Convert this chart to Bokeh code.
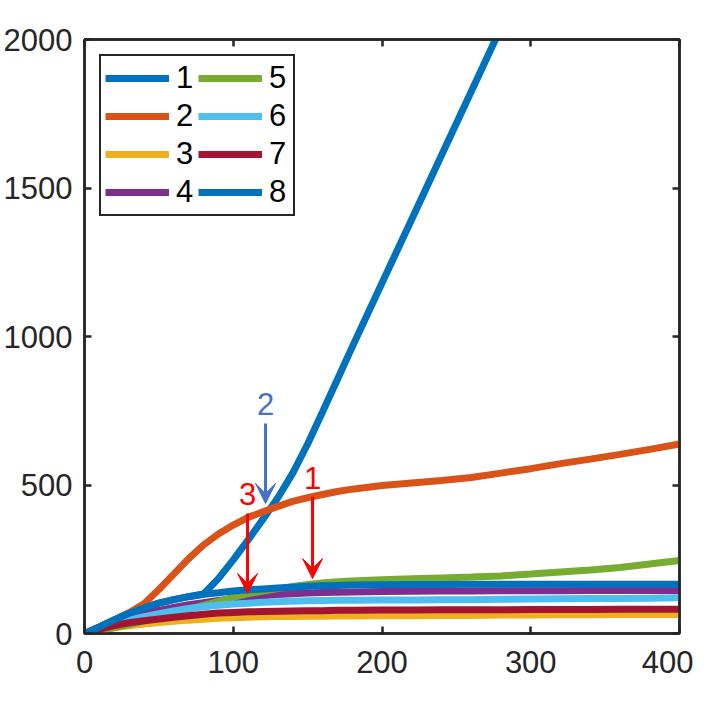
from bokeh.plotting import figure
from bokeh.models import (Range1d, LinearAxis, Arrow, VeeHead, FixedTicker, Legend, LegendItem,
                          ColumnDataSource, CustomLabelingPolicy)
from bokeh.embed import file_html
from bokeh.resources import INLINE
from bokeh.core.properties import value

# ---- data ----
x = [0, 10, 20, 30, 40, 50, 60, 70, 80, 90, 100, 110, 120, 130, 140, 150, 160, 170, 180,
     200, 220, 240, 260, 280, 300, 320, 340, 360, 380, 400]
s1 = [0, 22, 46, 68, 86, 102, 114, 124, 133, 185, 248, 315, 385, 457, 540, 638, 746, 855, 965,
      1180, 1395, 1610, 1825, 2040, 2255, 2470, 2685, 2900, 3115, 3330]
s2 = [0, 22, 46, 70, 100, 148, 200, 252, 298, 335, 365, 391, 410, 428, 445, 457, 468, 478, 486,
      498, 507, 515, 525, 540, 555, 572, 587, 603, 620, 638]
s3 = [0, 10, 19, 26, 32, 37, 41, 45, 48, 51, 53, 55, 56, 57, 57, 58, 58, 59, 59,
      60, 60, 61, 61, 62, 62, 63, 63, 64, 64, 64]
s4 = [0, 18, 36, 52, 66, 78, 88, 97, 104, 111, 117, 122, 127, 131, 134, 136, 138, 139, 140,
      141, 142, 143, 143, 144, 144, 144, 145, 145, 145, 145]
s5 = [0, 10, 20, 30, 42, 55, 68, 82, 95, 108, 122, 134, 143, 151, 158, 165, 170, 174, 177,
      181, 184, 187, 190, 194, 200, 207, 214, 222, 234, 246]
s6 = [0, 16, 32, 45, 57, 67, 76, 84, 90, 95, 99, 102, 105, 107, 109, 110, 111, 112, 112,
      113, 113, 114, 114, 115, 116, 117, 118, 118, 119, 120]
s7 = [0, 14, 27, 36, 43, 49, 55, 60, 65, 69, 71, 73, 74, 75, 76, 77, 77, 78, 78,
      79, 79, 80, 80, 80, 81, 81, 81, 82, 82, 82]
s8 = [0, 22, 46, 68, 86, 102, 114, 124, 132, 137, 143, 147, 150, 153, 156, 159, 161, 162, 163,
      164, 165, 165, 166, 166, 166, 166, 166, 166, 166, 166]
series = [s1, s2, s3, s4, s5, s6, s7, s8]
labels = ["1", "2", "3", "4", "5", "6", "7", "8"]
colors = ["#0072BD", "#D95319", "#EDB120", "#7E2F8E", "#77AC30", "#4DBEEE", "#A2142F", "#0072BD"]

x_ticks = [0, 100, 200, 300, 400]
y_ticks = [0, 500, 1000, 1500, 2000]

# annotation arrows
arrow_text = ["2", "3", "1"]
arrow_x = [121.7, 109.6, 153.3]
arrow_y_start = [707, 404, 461]
arrow_y_end = [438, 135, 185]
arrow_text_y = [774, 471, 522]
arrow_colors = ["#4472C4", "#FF0000", "#FF0000"]

FONT = "Liberation Sans"
FS = "31px"
AX = "#262626"

p = figure(frame_width=595, frame_height=594, output_backend="svg", toolbar_location=None,
           x_range=Range1d(0, 400), y_range=Range1d(0, 2000),
           min_border_left=78, min_border_right=14, min_border_top=39, min_border_bottom=56)
p.grid.visible = False
p.background_fill_color = "white"
p.border_fill_color = "white"
p.outline_line_color = AX
p.outline_line_width = 2.5

hide_all = CustomLabelingPolicy(code="""
for (const i of indices) { indices.unset(i) }
return indices
""")

def style_axis(ax, show_labels, standoff):
    ax.axis_line_color = AX
    ax.axis_line_width = 2.5
    ax.major_tick_line_color = AX
    ax.major_tick_line_width = 2.5
    ax.major_tick_in = 7
    ax.major_tick_out = 0
    ax.minor_tick_line_color = None
    ax.major_label_text_font = FONT
    ax.major_label_text_color = AX
    if show_labels:
        ax.major_label_text_font_size = FS
        ax.major_label_standoff = standoff
    else:
        ax.major_label_policy = hide_all
        ax.major_label_text_font_size = "1px"
        ax.major_label_standoff = 0

p.xaxis.ticker = FixedTicker(ticks=x_ticks)
p.yaxis.ticker = FixedTicker(ticks=y_ticks)
style_axis(p.xaxis[0], True, 17)
style_axis(p.yaxis[0], True, 12)

top = LinearAxis(ticker=FixedTicker(ticks=x_ticks))
right = LinearAxis(ticker=FixedTicker(ticks=y_ticks))
style_axis(top, False, 0)
style_axis(right, False, 0)
p.add_layout(top, "above")
p.add_layout(right, "right")

items = []
for s, lab, c in zip(series, labels, colors):
    r = p.line(x, s, line_color=c, line_width=7)
    items.append(LegendItem(label=lab, renderers=[r]))

legend = Legend(items=items, ncols=2, location="top_left")
legend.label_text_font = FONT
legend.label_text_font_size = FS
legend.label_text_color = "black"
legend.label_text_baseline = "middle"
legend.glyph_width = 64
legend.glyph_height = 36
legend.label_height = 36
legend.label_width = 20
legend.label_standoff = 7
legend.spacing = 2
legend.padding = 4
legend.margin = 15
legend.border_line_color = AX
legend.border_line_width = 2.5
legend.border_line_alpha = 1
legend.background_fill_color = "white"
legend.background_fill_alpha = 1
p.add_layout(legend)

for xs, y0, y1, c in zip(arrow_x, arrow_y_start, arrow_y_end, arrow_colors):
    p.add_layout(Arrow(x_start=xs, y_start=y0, x_end=xs, y_end=y1,
                       line_color=c, line_width=3,
                       end=VeeHead(size=20, fill_color=c, line_color=c, line_width=1)))

src = ColumnDataSource(dict(x=arrow_x, y=arrow_text_y, t=arrow_text, c=arrow_colors))
p.text(x="x", y="y", text="t", source=src, text_color="c", text_align="center",
       text_baseline="middle", text_font=value(FONT), text_font_size=FS)

open("out.html", "w").write(file_html(p, INLINE))
